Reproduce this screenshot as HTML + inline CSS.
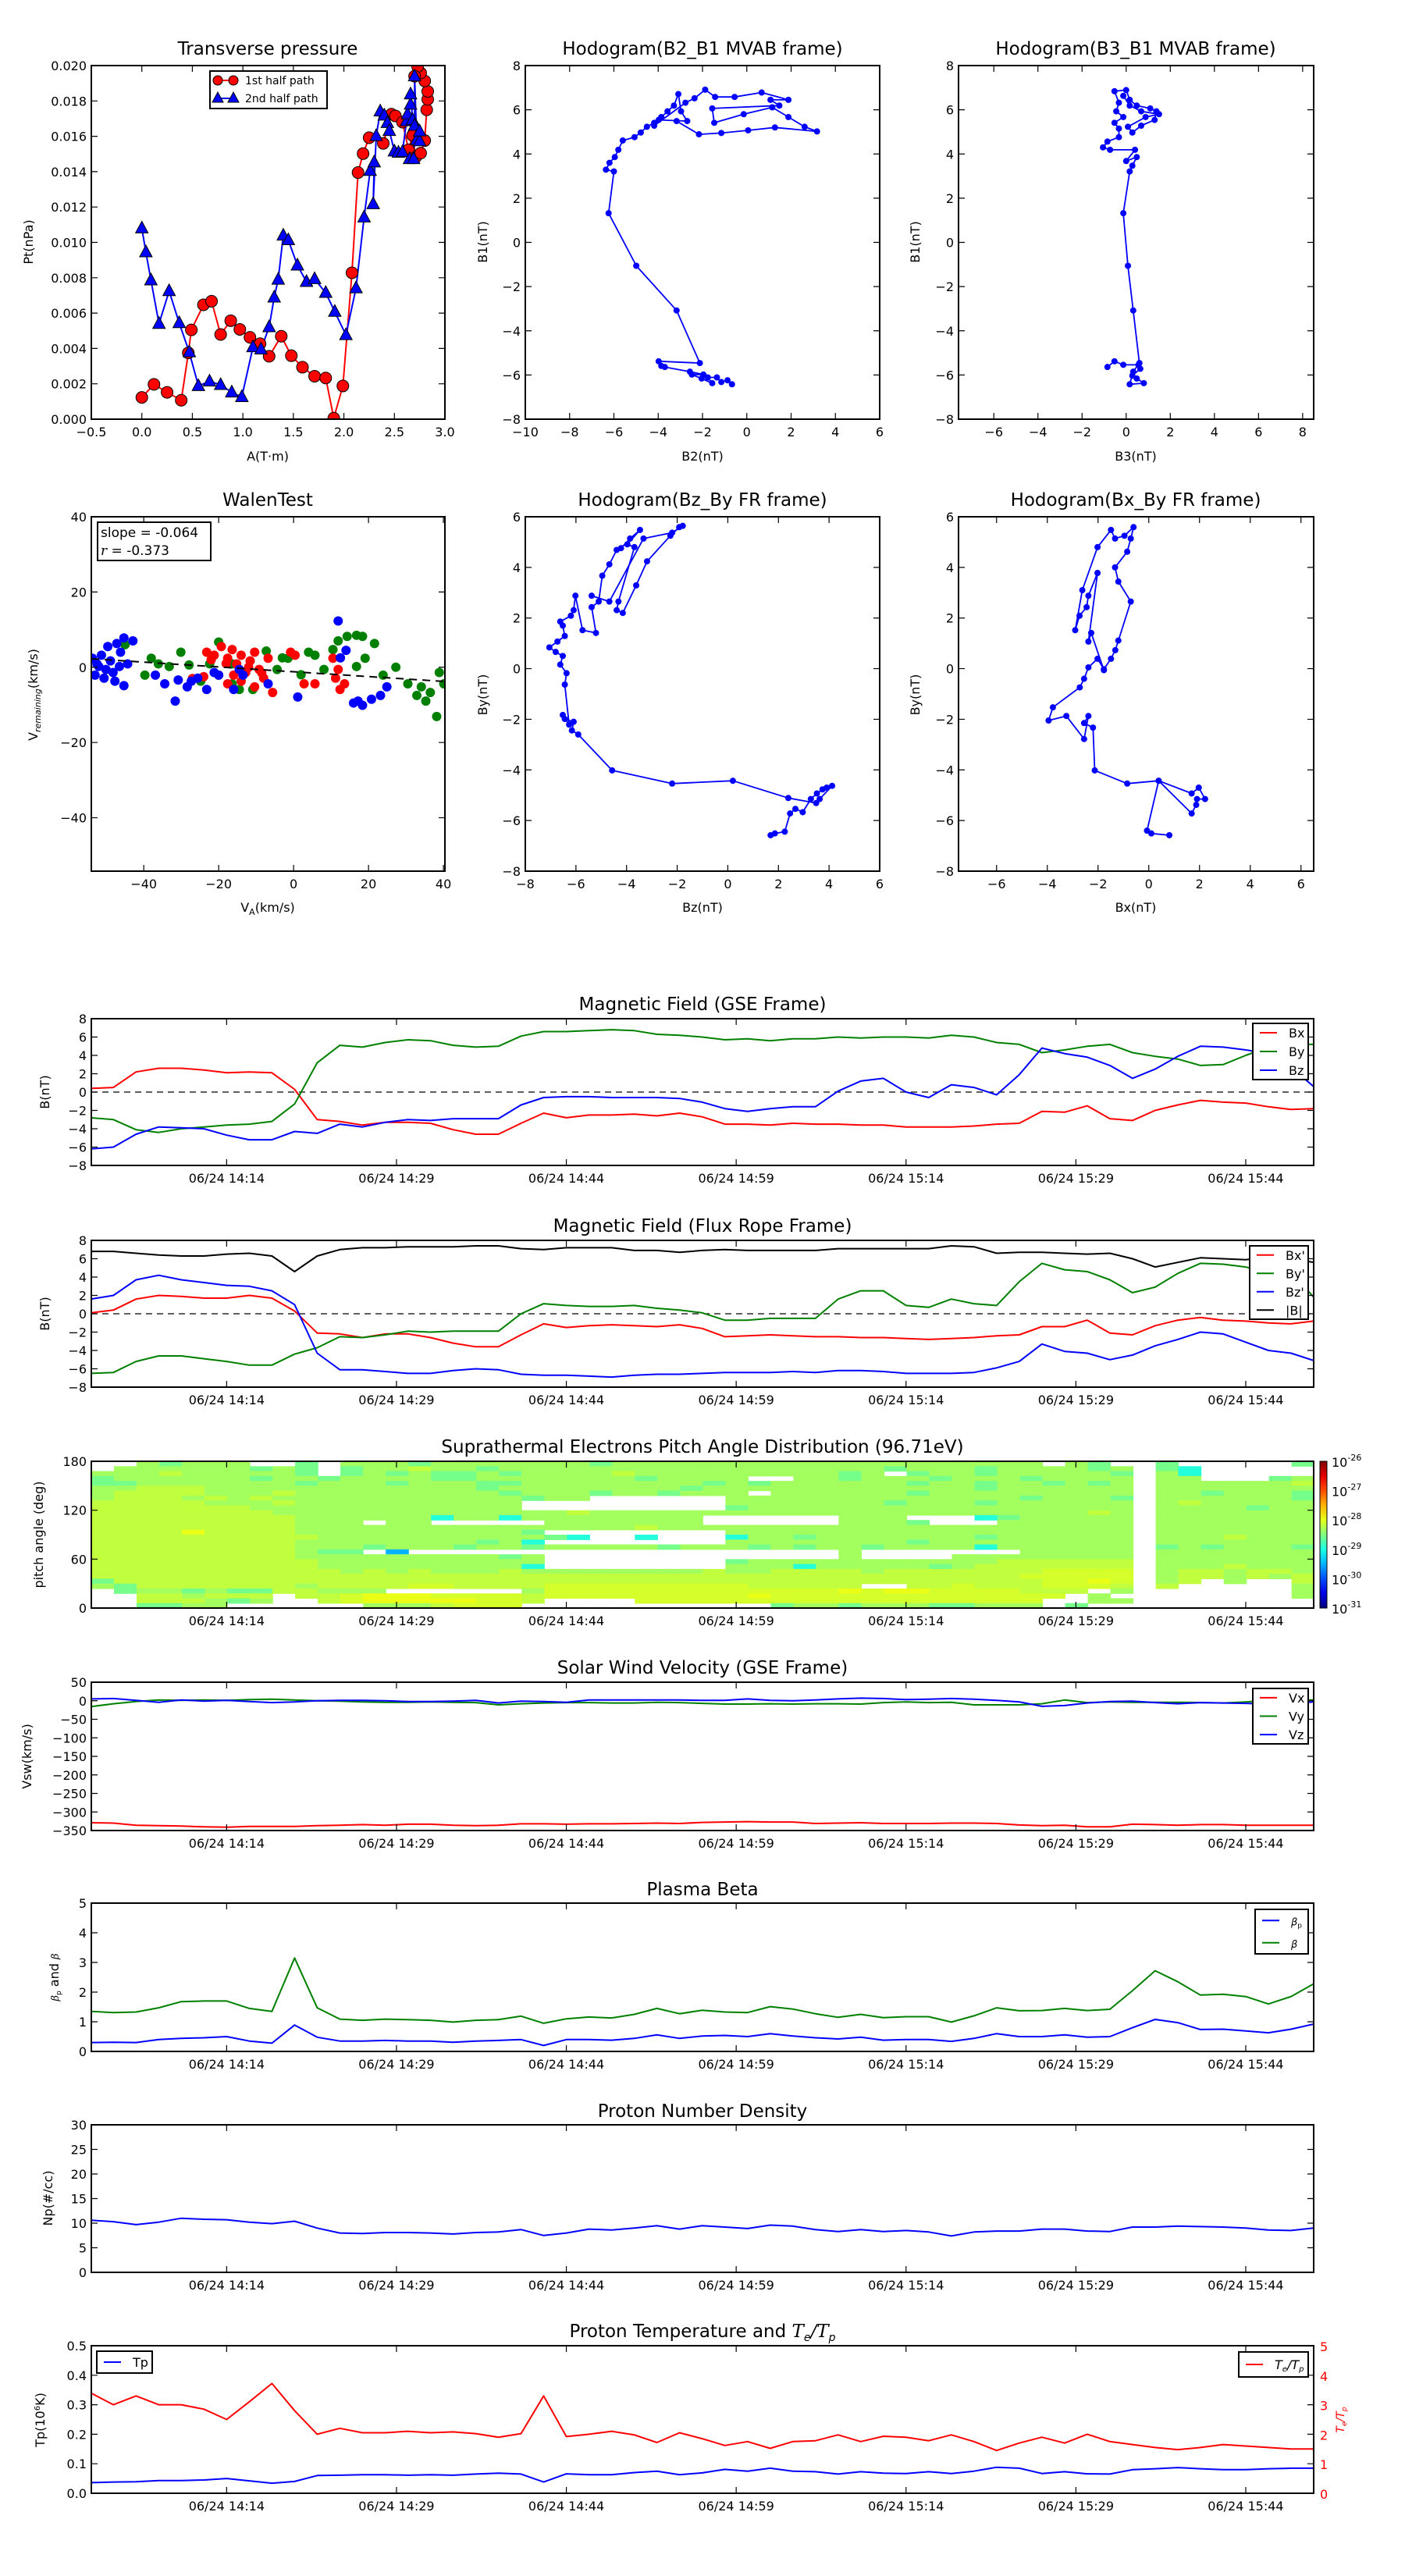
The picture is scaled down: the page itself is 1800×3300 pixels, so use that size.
<!DOCTYPE html>
<html><head><meta charset="utf-8"><title>Flux rope analysis</title>
<style>body{margin:0;background:#fff}svg{display:block;font-family:"DejaVu Sans","Liberation Sans",sans-serif}</style>
</head><body>
<svg id="fig" width="1800" height="3300" viewBox="0 0 1800 3300" xmlns="http://www.w3.org/2000/svg"><rect width="1800" height="3300" fill="#fff"/></svg>
<script>
// ---------- data ----------
const times=[2,4,6,8,10,12,14,16,18,20,22,24,26,28,30,32,34,36,38,40,42,44,46,48,50,52,54,56,58,60,62,64,66,68,70,72,74,76,78,80,82,84,86,88,90,92,94,96,98,100,102,104,106,108,110];
const timeTicks=[14,29,44,59,74,89,104];
const gseBx=[0.4,0.5,2.2,2.6,2.6,2.4,2.1,2.2,2.1,0.3,-3.0,-3.2,-3.6,-3.3,-3.3,-3.4,-4.1,-4.6,-4.6,-3.4,-2.3,-2.8,-2.5,-2.5,-2.4,-2.6,-2.3,-2.7,-3.5,-3.5,-3.6,-3.4,-3.5,-3.5,-3.6,-3.6,-3.8,-3.8,-3.8,-3.7,-3.5,-3.4,-2.1,-2.2,-1.5,-2.9,-3.1,-2.0,-1.4,-0.9,-1.1,-1.2,-1.6,-1.9,-1.8];
const gseBy=[-2.8,-3.0,-4.1,-4.4,-4.0,-3.8,-3.6,-3.5,-3.2,-1.3,3.2,5.1,4.9,5.4,5.7,5.6,5.1,4.9,5.0,6.1,6.6,6.6,6.7,6.8,6.7,6.3,6.2,6.0,5.7,5.8,5.6,5.8,5.8,6.0,5.9,6.0,6.0,5.9,6.2,6.0,5.4,5.2,4.3,4.6,5.0,5.2,4.3,3.9,3.6,2.9,3.0,4.0,4.9,5.2,5.2];
const gseBz=[-6.2,-6.0,-4.6,-3.8,-3.9,-4.0,-4.7,-5.2,-5.2,-4.3,-4.5,-3.5,-3.8,-3.3,-3.0,-3.1,-2.9,-2.9,-2.9,-1.4,-0.6,-0.5,-0.5,-0.6,-0.6,-0.6,-0.7,-1.1,-1.8,-2.1,-1.8,-1.6,-1.6,0.1,1.2,1.5,0,-0.6,0.8,0.5,-0.3,1.9,4.8,4.2,3.8,2.9,1.5,2.5,3.9,5.0,4.9,4.6,4.2,2.7,0.6];
const frBx=[0.1,0.4,1.6,2.0,1.9,1.7,1.7,2.0,1.7,0.3,-2.1,-2.2,-2.6,-2.2,-2.2,-2.6,-3.2,-3.6,-3.6,-2.3,-1.1,-1.5,-1.3,-1.2,-1.3,-1.4,-1.2,-1.6,-2.5,-2.4,-2.3,-2.4,-2.5,-2.5,-2.6,-2.6,-2.7,-2.8,-2.7,-2.6,-2.4,-2.3,-1.4,-1.4,-0.7,-2.1,-2.3,-1.3,-0.7,-0.4,-0.7,-0.8,-1.0,-1.1,-0.8];
const frBy=[-6.5,-6.4,-5.2,-4.6,-4.6,-4.9,-5.2,-5.6,-5.6,-4.4,-3.7,-2.5,-2.6,-2.3,-1.9,-2.0,-1.9,-1.9,-1.9,0,1.1,0.9,0.8,0.8,0.9,0.6,0.4,0.1,-0.7,-0.7,-0.5,-0.5,-0.5,1.6,2.5,2.5,0.9,0.7,1.6,1.1,0.9,3.5,5.5,4.8,4.6,3.7,2.3,2.9,4.4,5.5,5.4,5.1,4.4,4.6,1.8];
const frBz=[1.6,2.0,3.7,4.2,3.7,3.4,3.1,3.0,2.5,1.0,-4.3,-6.1,-6.1,-6.3,-6.5,-6.5,-6.2,-6.0,-6.1,-6.6,-6.7,-6.7,-6.8,-6.9,-6.7,-6.6,-6.6,-6.5,-6.4,-6.4,-6.4,-6.3,-6.4,-6.2,-6.2,-6.3,-6.5,-6.5,-6.5,-6.4,-5.9,-5.2,-3.3,-4.1,-4.3,-5.0,-4.5,-3.5,-2.8,-2.0,-2.2,-3.1,-4.0,-4.3,-5.1];
const frBt=[6.8,6.8,6.6,6.4,6.3,6.3,6.5,6.6,6.3,4.6,6.3,7.0,7.2,7.2,7.3,7.3,7.3,7.4,7.4,7.1,7.0,7.2,7.2,7.2,6.9,6.9,6.7,6.9,7.0,6.9,6.9,6.9,6.9,7.1,7.1,7.1,7.1,7.1,7.4,7.3,6.6,6.7,6.7,6.6,6.5,6.6,6.0,5.1,5.6,6.1,6.0,5.9,6.2,6.0,5.6];
const vx=[-329,-330,-336,-337,-338,-340,-341,-339,-339,-339,-337,-336,-334,-336,-333,-333,-336,-337,-336,-332,-332,-333,-332,-332,-331,-330,-331,-328,-327,-326,-327,-327,-331,-330,-329,-331,-331,-331,-330,-330,-331,-335,-337,-336,-340,-340,-333,-334,-336,-334,-334,-336,-336,-336,-336];
const vy=[-16,-8,-2,2,1,2,1,3,4,2,0,-1,-3,-4,-4,-3,-4,-5,-11,-8,-6,-5,-5,-6,-6,-4,-5,-7,-9,-9,-8,-9,-8,-8,-9,-5,-3,-5,-4,-11,-11,-11,-8,2,-5,-3,-4,-4,-4,-5,-6,-3,1,2,2];
const vz=[5,6,1,-4,2,-1,1,-2,-5,-3,0,1,1,0,-2,-2,-1,1,-6,-1,-2,-4,2,2,2,2,2,1,1,5,1,0,2,5,7,6,3,4,6,4,1,-3,-15,-13,-6,-2,-1,-5,-8,-5,-6,-7,-9,-8,-3];
const betaTot=[1.35,1.31,1.33,1.47,1.68,1.7,1.7,1.45,1.35,3.15,1.47,1.09,1.05,1.09,1.07,1.05,0.99,1.05,1.07,1.19,0.95,1.1,1.16,1.13,1.25,1.45,1.27,1.39,1.33,1.31,1.51,1.43,1.27,1.15,1.25,1.14,1.17,1.17,0.99,1.2,1.47,1.37,1.38,1.45,1.38,1.42,2.05,2.72,2.35,1.9,1.93,1.85,1.6,1.85,2.28];
const betaP=[0.3,0.31,0.3,0.4,0.44,0.46,0.5,0.35,0.28,0.89,0.48,0.35,0.35,0.37,0.35,0.35,0.31,0.35,0.37,0.4,0.2,0.4,0.4,0.38,0.44,0.56,0.44,0.52,0.54,0.5,0.6,0.52,0.46,0.42,0.48,0.38,0.4,0.4,0.34,0.44,0.6,0.5,0.5,0.56,0.48,0.5,0.8,1.08,0.97,0.74,0.75,0.69,0.63,0.75,0.92];
const np=[10.6,10.3,9.7,10.2,11.0,10.8,10.7,10.2,9.9,10.4,9.0,8.0,7.9,8.1,8.1,8.0,7.8,8.1,8.2,8.7,7.5,8.0,8.8,8.6,9.0,9.5,8.8,9.5,9.2,8.9,9.6,9.4,8.7,8.3,8.7,8.3,8.5,8.2,7.4,8.2,8.4,8.4,8.8,8.8,8.4,8.3,9.2,9.2,9.4,9.3,9.2,9.0,8.6,8.5,9.0];
const tp=[0.036,0.038,0.039,0.043,0.043,0.045,0.05,0.042,0.034,0.04,0.06,0.061,0.063,0.063,0.061,0.063,0.061,0.065,0.068,0.065,0.038,0.066,0.063,0.063,0.07,0.075,0.063,0.069,0.081,0.075,0.085,0.075,0.073,0.065,0.073,0.068,0.067,0.073,0.067,0.075,0.088,0.085,0.067,0.073,0.066,0.065,0.08,0.083,0.087,0.083,0.08,0.08,0.083,0.085,0.085];
const teTp=[3.4,3.0,3.3,3.0,3.0,2.85,2.5,3.1,3.72,2.8,2.0,2.2,2.05,2.05,2.1,2.05,2.08,2.02,1.9,2.02,3.3,1.92,2.0,2.1,1.98,1.72,2.05,1.85,1.62,1.75,1.52,1.75,1.78,1.98,1.75,1.93,1.9,1.78,1.98,1.75,1.45,1.7,1.9,1.7,2.0,1.75,1.65,1.55,1.48,1.55,1.65,1.6,1.55,1.5,1.5];
// pitch angle distribution: rows 180->0 deg (6 deg bins), columns = 2-min bins starting at times[i]
const padRows=[
"..lglll..g"+".lllglllll"+"llglllllll"+"llllllllll"+"ll.lg."+"."+"g.....g",
".llllllglg"+".gllmllgll"+"llllllllll"+"lllllglllg"+"llllgl"+"."+"gc.....",
"lllmlllllg"+".glglgglgl"+"lllmllllll"+"lllgl.gllg"+"lllllg"+"."+"lc.....",
"gllllllgll"+"gllllgglll"+"llllgllll."+".llglllgll"+"lgllll"+"."+"ll...gl",
"gglllllllg"+"lllglllggl"+"lllllllglg"+"llllllgllg"+"llglgl"+"."+"llllllm",
"llmmmlllll"+"lllllllgll"+"llllllglll"+"lllllllllg"+"llllll"+"."+"lllllll",
"lmmmmlllml"+"llllllllgl"+"llgllglll."+"llllllglll"+"llllll"+"."+"llglllg",
"lmmmlmlmll"+"lllllllllg"+"ll......ll"+"llllllllll"+"lglllg"+"."+"llllllg",
"mmmmmlllml"+"lllllllll."+"........ll"+"lllllglllg"+"llllll"+"."+"lmlllll",
"mmmmmmmlll"+"lllllllll."+"........gl"+"llllllllll"+"llllll"+"."+"llllgll",
"mmmmmmmmll"+"llllllllll"+"lmllllllll"+"llllllllll"+"llllml"+"."+"lllllll",
"mmmmmmmmml"+"lllllcllcl"+"lllllll..."+"...lll...c"+"glllll"+"."+"lllllll",
"mmmmmmmmml"+"ll.ll....."+"lllllll..."+"...lllg..."+"llllll"+"."+"lllllll",
"mmmmmmmmml"+"llllllllll"+"llllmlllll"+"llllllllll"+"llllll"+"."+"lllllll",
"mmmmYmmmml"+"lllllllllg"+"........ll"+"llllllllll"+"llllll"+"."+"lllllll",
"mmmmmmmmmm"+"llllllllll"+"gc..c...cl"+"lglllllllg"+"llllll"+"."+"lllmlll",
"mmmmmmmmml"+"lllllllglc"+"........ll"+"llllllglll"+"llllll"+"."+"lllllll",
"mmmmmmmmml"+"llglllgllg"+"lllllglllg"+"lgllgllllc"+"llllll"+"."+"glglllg",
"mmmmmmmmml"+"gg.b......"+".........."+"...l......"+".lllll"+"."+"lllllll",
"mmmmmmmmml"+"llllllllgl"+".........."+"...l....ll"+"llllll"+"."+"lllllll",
"mmmmmmmmmm"+"llllllllll"+"........gl"+"llllllllll"+"mmmmmm"+"."+"lllllll",
"mmmmmmmmmm"+"lllllllllc"+"........ll"+"lclllllglm"+"mmmmmm"+"."+"lllmlll",
"mmmmmmmmmm"+"mlmlmlllml"+"lllllllmll"+"mmmmlmmmmm"+"mmyyyy"+"."+"lmmlmml",
"mmmmmmmmmm"+"mmmmmmmmmm"+"mmmmmmmmmm"+"mmmmmmmmmm"+"myyyyy"+"."+"lmmlmlm",
"gmmmmmmmmm"+"mmmmmmmmmm"+"mmmmmmmmmm"+"mmmmmmmmmm"+"mmyyYy"+"."+"lm.l..m",
"lgmmmmmmml"+"mmmmyymmmm"+"yyyyyyyyym"+"mmmm..mmym"+"mmyyym"+"."+"m.....l",
".gllglggmm"+"lll......l"+"yyyyyyyyyy"+"yyyYyYYyyy"+"ymmm.l"+"."+"......l",
"..mmlmmm.m"+"myYYYyyyym"+"yyyyyyyyyY"+"yyyyyyyyyy"+"yyy.l."+"."+"......l",
"..mmmlgl.."+"myYYYYYyym"+"....yyyyyy"+"yyyyyyyyyy"+"yy..ll"+"."+".......",
"..ggll...."+"..lllmyyy."+".........."+"gllglllggl"+"ll.g.."+"."+"......."];
const padLevels={Y:-27.98,y:-28.08,m:-28.18,l:-28.33,g:-28.55,c:-28.95,b:-29.5};
// transverse pressure
const pA1=[0.0,0.12,0.25,0.39,0.46,0.49,0.61,0.69,0.78,0.88,0.97,1.07,1.17,1.26,1.38,1.48,1.59,1.71,1.82,1.90,1.99,2.08,2.14,2.19,2.25,2.39,2.47,2.51,2.58,2.64,2.68,2.71,2.76,2.80,2.82,2.83,2.83,2.80,2.76,2.73,2.70];
const pPt1=[0.00123,0.00197,0.00152,0.00107,0.00375,0.00505,0.00647,0.00667,0.00479,0.00557,0.00508,0.00463,0.00427,0.00356,0.00469,0.00359,0.00294,0.00243,0.00233,0.00006,0.00188,0.00828,0.01395,0.01502,0.01592,0.0156,0.01725,0.01715,0.0168,0.01524,0.01605,0.01482,0.01505,0.01576,0.0175,0.01809,0.01854,0.01913,0.01958,0.01994,0.0194];
const pA2=[0.0,0.04,0.09,0.17,0.27,0.37,0.47,0.56,0.67,0.78,0.89,0.99,1.10,1.18,1.26,1.31,1.35,1.40,1.45,1.54,1.63,1.71,1.82,1.91,2.02,2.12,2.20,2.26,2.30,2.29,2.32,2.36,2.40,2.43,2.45,2.50,2.54,2.58,2.62,2.63,2.66,2.66,2.68,2.70,2.70,2.72,2.75,2.75,2.65,2.69];
const pPt2=[0.0108,0.00945,0.00786,0.0054,0.00725,0.00544,0.00379,0.00188,0.00214,0.00194,0.00152,0.00126,0.00408,0.00395,0.00521,0.00689,0.0079,0.01039,0.01013,0.0087,0.00777,0.00793,0.00715,0.00608,0.00476,0.00741,0.01142,0.01405,0.01453,0.01217,0.01602,0.01741,0.01718,0.01676,0.01631,0.01515,0.01508,0.01511,0.01686,0.01725,0.0178,0.01838,0.01693,0.0166,0.0194,0.0158,0.01573,0.01628,0.01472,0.01472];
// hodograms
const mvB2=[-0.67,-0.87,-1.15,-1.35,-1.76,-1.56,-2.04,-2.48,-1.96,-2.57,-3.70,-3.86,-3.98,-2.12,-3.17,-4.99,-6.24,-6.0,-6.36,-6.2,-5.96,-5.8,-5.6,-5.07,-4.79,-4.51,-4.18,-3.86,-3.58,-3.29,-3.09,-2.97,-2.69,-3.98,-4.18,-2.77,-2.36,-1.88,-1.43,-0.55,0.67,1.88,1.07,1.47,-1.56,-1.47,-0.14,1.15,1.88,2.61,3.17,1.27,0.06,-1.15,-2.16,-3.17];
const mvB1a=[-6.42,-6.24,-6.32,-6.11,-6.11,-6.37,-6.16,-5.98,-5.98,-5.85,-5.64,-5.59,-5.38,-5.46,-3.08,-1.06,1.32,3.21,3.29,3.6,3.86,4.19,4.61,4.76,4.97,5.23,5.41,5.67,5.93,6.19,6.71,5.93,5.49,5.54,5.28,6.32,6.52,6.91,6.58,6.58,6.78,6.45,6.45,6.19,6.06,5.41,5.80,6.11,5.67,5.23,5.02,5.2,5.07,4.95,4.89,5.49];
const mvB3=[-0.85,-0.53,-0.13,0.56,0.64,0.28,0.48,0.8,0.16,0.32,0.6,0.32,0.08,-0.13,0.16,0.28,0.48,0,0.4,-0.73,-1.05,-0.85,-0.33,-0.33,-0.53,-0.13,-0.45,-0.33,-0.53,0,0.16,0.48,1.09,1.37,1.29,0.68,0.28,0.08,0.88,1.49,0.68,0.16,-0.13];
const mvB1b=[-5.64,-5.38,-5.54,-5.54,-5.72,-6.03,-6.16,-6.37,-6.42,-5.85,-5.46,-3.08,-1.06,1.32,3.21,3.47,3.86,3.68,4.19,4.19,4.3,4.56,4.76,5.15,5.41,5.67,5.93,6.32,6.84,6.89,6.45,6.19,6.06,5.93,5.54,5.28,4.97,5.23,5.67,5.8,5.93,6.19,6.63];
const frHz=[1.69,1.86,2.25,2.46,2.67,2.96,3.28,3.52,3.74,3.91,4.12,3.63,3.49,2.39,0.2,-2.2,-4.57,-5.91,-6.16,-6.09,-6.44,-6.52,-6.27,-6.44,-6.37,-6.62,-6.52,-6.8,-7.05,-6.73,-6.44,-6.52,-6.62,-6.2,-6.09,-6.02,-5.74,-5.21,-5.38,-5.1,-4.96,-4.68,-4.39,-4.22,-3.86,-3.47,-3.97,-3.69,-4.32,-4.39,-4.15,-3.62,-3.19,-2.27,-1.92,-1.78,-2.2,-3.33,-4.68,-5.38];
const frHy=[-6.58,-6.51,-6.44,-5.72,-5.54,-5.67,-5.15,-4.93,-4.77,-4.7,-4.63,-5.15,-5.31,-5.11,-4.43,-4.54,-4.02,-2.6,-2.44,-2.1,-1.99,-1.83,-2.21,-0.63,-0.18,0.16,0.5,0.66,0.84,1.07,1.29,1.7,1.86,2.09,2.31,2.88,1.52,1.41,2.43,2.65,3.67,4.12,4.69,4.76,5.14,5.48,4.91,4.8,2.65,2.31,2.2,3.29,4.24,5.25,5.59,5.64,5.37,5.14,2.65,2.88];
const frHx=[0.81,0.1,-0.07,0.39,1.69,1.97,2.22,1.9,1.87,1.69,0.39,-0.85,-2.13,-2.2,-2.55,-2.38,-2.55,-3.25,-3.95,-3.78,-2.72,-2.55,-2.38,-2.02,-1.77,-1.49,-1.32,-1.2,-0.71,-1.2,-1.33,-0.85,-0.71,-0.6,-0.96,-1.33,-1.49,-2.02,-2.62,-2.9,-2.73,-2.45,-2.38,-2.02,-2.38,-2.27,-1.77];
const frHy2=[-6.58,-6.51,-6.4,-4.43,-4.93,-4.7,-5.15,-5.15,-5.38,-5.72,-4.43,-4.54,-4.02,-2.33,-2.15,-1.87,-2.78,-1.87,-2.05,-1.53,-0.74,-0.4,0.05,0.39,-0.02,0.39,0.73,1.11,2.65,3.44,4.0,4.62,5.14,5.59,5.25,5.14,5.48,4.8,3.1,1.52,2.09,2.43,2.88,3.78,1.07,1.41,-0.06];
// Walen test
const walenFit=[-0.064,-1.2];
const wBlueX=[-53.7,-52.5,-51.3,-50.1,-48.9,-48.2,-47.2,-46.2,-45.3,-44.3,-42.9,-53,-50.6,-47.7,-45.3,-52,-49.6,-46.5,-34.4,-31.6,-28.4,-25.6,-23.2,-20,-16,-13.5,-6.8,1.1,11.9,16,18.4,20.8,23.2,24.9,17.2,-36.9,-30.8,-27.3,-21.2,-14.5,12.5,14];
const wBlueY=[2.4,0.9,3.2,-0.6,1.7,-1.4,6.3,4.0,7.8,0.9,7.0,-2.1,-2.9,-3.7,-4.9,0.2,5.5,0.2,-4.4,-9.0,-5.2,-2.9,-5.9,-2.1,-5.9,-2.1,-4.4,-7.9,12.3,-9.5,-10.1,-8.5,-7.5,-5.2,-9.0,-2.1,-3.4,-3.7,-1.4,-0.6,2.5,4.5];
const wRedX=[-23.2,-21.2,-19.3,-17.6,-16.4,-15.2,-14,-12.8,-11.6,-10.4,-9.2,-8,-6.8,-5.6,-20,-17.6,-16,-10.4,-0.8,0.4,2.8,5.7,10.5,11.2,12.4,13.6,11.9,-14,-18,-12,-8.5,-22,-27,-24];
const wRedY=[4,3.2,5.5,2.4,4.7,0.9,3.2,-1.4,1.7,4,-0.6,-2.9,2.4,-6.7,-2.1,-4.4,-2.1,-5.2,4,3.2,-4.4,-4.4,2.4,-2.9,-5.9,-4.4,-0.6,-3.7,1,0,-1.5,2,-3,-2.5];
const wGreenX=[-39.7,-38,-36.1,-33.2,-30.1,-27.9,-22.4,-20,-16.4,-14.5,-10.9,-7.3,-4.4,-1.5,4,5.7,8.1,10.5,11.9,14.3,16.8,18.4,21.6,16.8,19.1,23.9,27.3,30.5,32.9,35.3,36.5,38.2,38.9,40.1,34.1,-16.4,-24.8,-45,-3,2];
const wGreenY=[-2.1,2.4,0.9,0.2,4,0.6,0.9,6.7,0.9,-5.9,-5.9,4.3,-0.6,2.4,4,3.2,-0.6,4.7,7,8.2,8.5,8.2,6.3,0.2,2.4,-2.1,0,-4.4,-7.5,-9,-6.7,-13.1,-1.4,-4.4,-5.2,-4.4,-3.7,6,2.5,-2];

// ---------- helpers ----------
const NS='http://www.w3.org/2000/svg';
const svg=document.getElementById('fig');
function mk(tag,parent){const e=document.createElementNS(NS,tag);(parent||svg).appendChild(e);return e;}
function at(e,o){for(const k in o)e.setAttribute(k,o[k]);return e;}
let clipId=0;
function text(parent,x,y,str,size,anchor,name,fill){
  const t=mk('text',parent);
  at(t,{x:x,y:y,'font-size':size,'text-anchor':anchor||'middle',fill:fill||'#000'});
  t.textContent=str;
  
  
  return t;
}
function axes(name,x0,y0,x1,y1,xd,yd){
  const g=mk('g');
  
  
  const cid='c'+(clipId++);
  const cp=mk('clipPath',g);at(cp,{id:cid});
  at(mk('rect',cp),{x:x0,y:y0,width:x1-x0,height:y1-y0});
  const d=mk('g',g);at(d,{'clip-path':'url(#'+cid+')'});
  
  
  const ax={g,d,x0,y0,x1,y1,
    sx:v=>x0+(v-xd[0])/(xd[1]-xd[0])*(x1-x0),
    sy:v=>y1-(v-yd[0])/(yd[1]-yd[0])*(y1-y0)};
  return ax;
}
function frame(ax){
  const r=mk('rect',ax.g);
  at(r,{x:ax.x0,y:ax.y0,width:ax.x1-ax.x0,height:ax.y1-ax.y0,fill:'none',stroke:'#000','stroke-width':2});
  
  
}
function xTicks(ax,vals,labels,size){
  vals.forEach((v,i)=>{
    const x=ax.sx(v);
    const p=mk('path',ax.g);
    at(p,{d:`M${x},${ax.y1}v-8M${x},${ax.y0}v8`,stroke:'#000','stroke-width':1.2});
    
    
    text(ax.g,x,ax.y1+22,labels[i],size||16,'middle','x-tick-label');
  });
}
function yTicks(ax,vals,labels,size,right,color){
  vals.forEach((v,i)=>{
    const y=ax.sy(v);
    const p=mk('path',ax.g);
    at(p,{d:`M${ax.x0},${y}h8M${ax.x1},${y}h-8`,stroke:'#000','stroke-width':1.2});
    
    
    if(labels){
      if(right) text(ax.g,ax.x1+8,y+6,labels[i],size||16,'start','y-tick-label-right',color);
      else text(ax.g,ax.x0-6,y+6,labels[i],size||16,'end','y-tick-label');
    }
  });
}
function rng(a,b,s){const r=[];for(let v=a;v<=b+1e-9;v+=s)r.push(+v.toFixed(6));return r;}
function fmt(v,d){const s=Math.abs(v).toFixed(d);return (v<0?'\u2212':'')+s;}
function series(ax,xs,ys,color,name,w,sy){
  const f=sy||ax.sy;
  let d='';
  const n=Math.min(xs.length,ys.length);
  for(let i=0;i<n;i++)d+=(i?'L':'M')+ax.sx(xs[i]).toFixed(1)+','+f(ys[i]).toFixed(1);
  const p=mk('path',ax.d);
  at(p,{d:d,fill:'none',stroke:color,'stroke-width':w||2,'stroke-linejoin':'round'});
  
  
  return p;
}
function dots(ax,xs,ys,color,r,name){
  const n=Math.min(xs.length,ys.length);
  for(let i=0;i<n;i++){
    const c=mk('circle',ax.d);
    at(c,{cx:ax.sx(xs[i]),cy:ax.sy(ys[i]),r:r,fill:color});
    
    
  }
}
function title(x,y,str,name){return text(svg,x,y,str,23,'middle',name);}
function ylabel(x,y,str,name,size,color){
  const t=text(svg,x,y,str,size||16,'middle',name,color);
  t.setAttribute('transform',`rotate(-90 ${x} ${y})`);
  return t;
}
function legend(x,y,w,h,items,name){
  const g=mk('g');
  
  
  const r=mk('rect',g);
  at(r,{x:x,y:y,width:w,height:h,fill:'#fff',stroke:'#000','stroke-width':2});
  
  
  const step=h/items.length;
  items.forEach((it,i)=>{
    const cy=y+step*(i+0.5);
    const l=mk('line',g);
    at(l,{x1:x+9,x2:x+31,y1:cy,y2:cy,stroke:it[1],'stroke-width':2});
    
    
    const t=text(g,x+46,cy+6,'',16,'start','legend-entry');
    t.innerHTML=it[0];
  });
}
const tmin=2.05,tmax=110.0;
function timePanel(name,y0,y1,yd,ticks,lab,titleStr,titleY){
  const ax=axes(name,117,y0,1683,y1,[tmin,tmax],yd);
  xTicks(ax,timeTicks,timeTicks.map(m=>{const h=14+Math.floor(m/60),mm=m%60;return '06/24 '+h+':'+String(mm).padStart(2,'0');}),16);
  yTicks(ax,ticks,lab,16);
  if(titleStr)title(900,titleY,titleStr,name+'-title');
  return ax;
}
function zeroLine(ax){
  const l=mk('line',ax.d);
  at(l,{x1:ax.x0,x2:ax.x1,y1:ax.sy(0),y2:ax.sy(0),stroke:'#000','stroke-width':1.3,'stroke-dasharray':'8,6'});
  
  
}

// ---------- Transverse pressure ----------
{
  const ax=axes('transverse-pressure-chart',117,84,570,537,[-0.5,3.0],[0,0.02]);
  series(ax,pA1,pPt1,'#f00','first-half-path-line',2);
  series(ax,pA2,pPt2,'#00f','second-half-path-line',2);
  for(let i=0;i<pA1.length;i++){
    const c=mk('circle',ax.d);
    at(c,{cx:ax.sx(pA1[i]),cy:ax.sy(pPt1[i]),r:7.5,fill:'#f00',stroke:'#000','stroke-width':1});
    
    
  }
  for(let i=0;i<pA2.length;i++){
    const x=ax.sx(pA2[i]),y=ax.sy(pPt2[i]);
    const p=mk('polygon',ax.d);
    at(p,{points:`${x},${y-9} ${x-8},${y+6} ${x+8},${y+6}`,fill:'#00f',stroke:'#000','stroke-width':1});
    
    
  }
  frame(ax);
  const xt=rng(-0.5,3.0,0.5);xTicks(ax,xt,xt.map(v=>fmt(v,1)));
  const yt=rng(0,0.02,0.002);yTicks(ax,yt,yt.map(v=>v.toFixed(3)));
  title(343,70,'Transverse pressure','transverse-pressure-title');
  text(svg,343,590,'A(T\u00b7m)',16,'middle','x-axis-title');
  ylabel(42,310,'Pt(nPa)','y-axis-title');
  const g=mk('g');
  
  
  const r=mk('rect',g);at(r,{x:269,y:91,width:150,height:48,fill:'#fff',stroke:'#000','stroke-width':2});
  
  
  const l1=mk('path',g);at(l1,{d:'M279,103h20',stroke:'#f00','stroke-width':2});
  
  
  [279,299].forEach(x=>{const c=mk('circle',g);at(c,{cx:x,cy:103,r:6,fill:'#f00',stroke:'#000','stroke-width':1});
    
    });
  const l2=mk('path',g);at(l2,{d:'M279,126h20',stroke:'#00f','stroke-width':2});
  
  
  [279,299].forEach(x=>{const p=mk('polygon',g);at(p,{points:`${x},${118} ${x-7},${131} ${x+7},${131}`,fill:'#00f',stroke:'#000','stroke-width':1});
    
    });
  text(g,314,108,'1st half path',14,'start','legend-entry');
  text(g,314,131,'2nd half path',14,'start','legend-entry');
}
// ---------- Hodogram B2_B1 ----------
{
  const ax=axes('hodogram-b2-b1',673,84,1127,537,[-10,6],[-8,8]);
  series(ax,mvB2,mvB1a,'#00f','hodogram-path',1.8);
  dots(ax,mvB2,mvB1a,'#00f',4,'hodogram-point');
  frame(ax);
  const xt=rng(-10,6,2);xTicks(ax,xt,xt.map(v=>fmt(v,0)));
  const yt=rng(-8,8,2);yTicks(ax,yt,yt.map(v=>fmt(v,0)));
  title(900,70,'Hodogram(B2_B1 MVAB frame)','hodogram-b2-b1-title');
  text(svg,900,590,'B2(nT)',16,'middle','x-axis-title');
  ylabel(624,310,'B1(nT)','y-axis-title');
}
// ---------- Hodogram B3_B1 ----------
{
  const ax=axes('hodogram-b3-b1',1228,84,1683,537,[-7.6,8.5],[-8,8]);
  series(ax,mvB3,mvB1b,'#00f','hodogram-path',1.8);
  dots(ax,mvB3,mvB1b,'#00f',4,'hodogram-point');
  frame(ax);
  const xt=rng(-6,8,2);xTicks(ax,xt,xt.map(v=>fmt(v,0)));
  const yt=rng(-8,8,2);yTicks(ax,yt,yt.map(v=>fmt(v,0)));
  title(1455,70,'Hodogram(B3_B1 MVAB frame)','hodogram-b3-b1-title');
  text(svg,1455,590,'B3(nT)',16,'middle','x-axis-title');
  ylabel(1178,310,'B1(nT)','y-axis-title');
}
// ---------- Walen test ----------
{
  const ax=axes('walen-test-chart',117,662,570,1116,[-54,40.4],[-54.2,40]);
  dots(ax,wGreenX,wGreenY,'#008000',6,'walen-point-green');
  dots(ax,wRedX,wRedY,'#f00',6,'walen-point-red');
  dots(ax,wBlueX,wBlueY,'#00f',6,'walen-point-blue');
  const l=mk('line',ax.d);
  at(l,{x1:ax.sx(-54),y1:ax.sy(walenFit[0]*-54+walenFit[1]),x2:ax.sx(40.4),y2:ax.sy(walenFit[0]*40.4+walenFit[1]),stroke:'#000','stroke-width':2,'stroke-dasharray':'10,7'});
  
  
  frame(ax);
  const xt=rng(-40,40,20);xTicks(ax,xt,xt.map(v=>fmt(v,0)));
  const yt=rng(-40,40,20);yTicks(ax,yt,yt.map(v=>fmt(v,0)));
  title(343,648,'WalenTest','walen-test-title');
  const xl=text(svg,343,1168,'',16,'middle','x-axis-title');xl.innerHTML='V<tspan font-size="11" dy="4">A</tspan><tspan dy="-4">(km/s)</tspan>';
  const yl=ylabel(48,890,'','y-axis-title');yl.innerHTML='V<tspan font-size="11" font-style="italic" dy="4">remaining</tspan><tspan dy="-4">(km/s)</tspan>';
  const b=mk('rect');at(b,{x:125,y:669,width:145,height:49,fill:'#fff',stroke:'#000','stroke-width':2});
  
  
  text(svg,129,688,'slope = -0.064',17,'start','slope-text');
  const rt=text(svg,129,711,'',17,'start','r-text');rt.innerHTML='<tspan font-style="italic" font-family="DejaVu Serif, serif">r</tspan> = -0.373';
}
// ---------- Hodogram Bz_By ----------
{
  const ax=axes('hodogram-bz-by',673,662,1127,1116,[-8,6],[-8,6]);
  series(ax,frHz,frHy,'#00f','hodogram-path',1.8);
  dots(ax,frHz,frHy,'#00f',4,'hodogram-point');
  frame(ax);
  const xt=rng(-8,6,2);xTicks(ax,xt,xt.map(v=>fmt(v,0)));
  const yt=rng(-8,6,2);yTicks(ax,yt,yt.map(v=>fmt(v,0)));
  title(900,648,'Hodogram(Bz_By FR frame)','hodogram-bz-by-title');
  text(svg,900,1168,'Bz(nT)',16,'middle','x-axis-title');
  ylabel(624,890,'By(nT)','y-axis-title');
}
// ---------- Hodogram Bx_By ----------
{
  const ax=axes('hodogram-bx-by',1228,662,1683,1116,[-7.5,6.5],[-8,6]);
  series(ax,frHx,frHy2,'#00f','hodogram-path',1.8);
  dots(ax,frHx,frHy2,'#00f',4,'hodogram-point');
  frame(ax);
  const xt=rng(-6,6,2);xTicks(ax,xt,xt.map(v=>fmt(v,0)));
  const yt=rng(-8,6,2);yTicks(ax,yt,yt.map(v=>fmt(v,0)));
  title(1455,648,'Hodogram(Bx_By FR frame)','hodogram-bx-by-title');
  text(svg,1455,1168,'Bx(nT)',16,'middle','x-axis-title');
  ylabel(1178,890,'By(nT)','y-axis-title');
}
// ---------- Magnetic field GSE ----------
{
  const yt=rng(-8,8,2);
  const ax=timePanel('magnetic-field-gse',1305,1493,[-8,8],yt,yt.map(v=>fmt(v,0)),'Magnetic Field (GSE Frame)',1294);
  zeroLine(ax);
  series(ax,times,gseBx,'#f00','bx-line');
  series(ax,times,gseBy,'#008000','by-line');
  series(ax,times,gseBz,'#00f','bz-line');
  frame(ax);
  ylabel(63,1399,'B(nT)','y-axis-title');
  legend(1605,1311,71,72,[['Bx','#f00'],['By','#008000'],['Bz','#00f']],'gse-legend');
}
// ---------- Magnetic field FR ----------
{
  const yt=rng(-8,8,2);
  const ax=timePanel('magnetic-field-flux-rope',1589,1777,[-8,8],yt,yt.map(v=>fmt(v,0)),'Magnetic Field (Flux Rope Frame)',1578);
  zeroLine(ax);
  series(ax,times,frBt,'#000','btotal-line');
  series(ax,times,frBx,'#f00','bx-prime-line');
  series(ax,times,frBy,'#008000','by-prime-line');
  series(ax,times,frBz,'#00f','bz-prime-line');
  frame(ax);
  ylabel(63,1683,'B(nT)','y-axis-title');
  legend(1601,1596,75,94,[["Bx'",'#f00'],["By'",'#008000'],["Bz'",'#00f'],['|B|','#000']],'fr-legend');
}
// ---------- PAD ----------
function jet(v){
  const c=x=>Math.round(255*Math.max(0,Math.min(1,1.5-Math.abs(x))));
  return `rgb(${c(4*v-3)},${c(4*v-2)},${c(4*v-1)})`;
}
{
  const ax=timePanel('pitch-angle-distribution',1872,2060,[0,180],[0,60,120,180],['0','60','120','180'],'Suprathermal Electrons Pitch Angle Distribution (96.71eV)',1861);
  padRows.forEach((row,r)=>{
    for(let c=0;c<row.length;c++){
      const ch=row[c];
      if(!(ch in padLevels))continue;
      const t=times[c]+0.05;
      const a1=180-6*r,a0=a1-6;
      const x=ax.sx(t),y=ax.sy(a1);
      const rc=mk('rect',ax.d);
      at(rc,{x:x.toFixed(1),y:y.toFixed(1),width:(ax.sx(t+2)-x+0.6).toFixed(1),height:(ax.sy(a0)-y+0.6).toFixed(1),fill:jet((padLevels[ch]+31)/5)});
      
      
    }
  });
  frame(ax);
  ylabel(55,1966,'pitch angle (deg)','y-axis-title');
  const defs=mk('defs');
  const lg=mk('linearGradient',defs);at(lg,{id:'jetg',x1:0,y1:1,x2:0,y2:0});
  for(let i=0;i<=10;i++){const s=mk('stop',lg);at(s,{offset:i/10,'stop-color':jet(i/10)});}
  const cb=mk('rect');at(cb,{x:1691,y:1872,width:9,height:188,fill:'url(#jetg)',stroke:'#000','stroke-width':1});
  
  
  [-26,-27,-28,-29,-30,-31].forEach((e,i)=>{
    const y=1872+i*188/5;
    const t=text(svg,1706,y+7,'',16,'start','colorbar-label');
    t.innerHTML='10<tspan font-size="11" dy="-8">'+e+'</tspan>';
  });
}
// ---------- Solar wind velocity ----------
{
  const yt=rng(-350,50,50);
  const ax=timePanel('solar-wind-velocity',2155,2345,[-350,50],yt,yt.map(v=>fmt(v,0)),'Solar Wind Velocity (GSE Frame)',2144);
  series(ax,times,vx,'#f00','vx-line');
  series(ax,times,vy,'#008000','vy-line');
  series(ax,times,vz,'#00f','vz-line');
  frame(ax);
  ylabel(40,2250,'Vsw(km/s)','y-axis-title');
  legend(1605,2163,71,71,[['Vx','#f00'],['Vy','#008000'],['Vz','#00f']],'velocity-legend');
}
// ---------- Plasma beta ----------
{
  const yt=rng(0,5,1);
  const ax=timePanel('plasma-beta',2438,2628,[0,5],yt,yt.map(v=>String(v)),'Plasma Beta',2428);
  series(ax,times,betaTot,'#008000','beta-line');
  series(ax,times,betaP,'#00f','beta-p-line');
  frame(ax);
  const yl=ylabel(75,2533,'','y-axis-title',16);yl.innerHTML='<tspan font-style="italic" font-family="DejaVu Serif, serif" font-size="13">\u03b2</tspan><tspan font-size="9" dy="3">p</tspan><tspan dy="-3"> and </tspan><tspan font-style="italic" font-family="DejaVu Serif, serif" font-size="13">\u03b2</tspan>';
  legend(1608,2446,68,57,[['<tspan font-style="italic" font-size="13">\u03b2</tspan><tspan font-size="9" dy="3">p</tspan>','#00f'],['<tspan font-style="italic" font-size="13">\u03b2</tspan>','#008000']],'beta-legend');
}
// ---------- Proton density ----------
{
  const yt=rng(0,30,5);
  const ax=timePanel('proton-density',2722,2911,[0,30],yt,yt.map(v=>String(v)),'Proton Number Density',2712);
  series(ax,times,np,'#00f','np-line');
  frame(ax);
  ylabel(67,2816,'Np(#/cc)','y-axis-title');
}
// ---------- Proton temperature ----------
{
  const yt=rng(0,0.5,0.1);
  const ax=timePanel('proton-temperature',3005,3194,[0,0.5],yt,yt.map(v=>v.toFixed(1)),null,0);
  const sy2=v=>ax.y1-v/5*(ax.y1-ax.y0);
  series(ax,times,teTp,'#f00','te-tp-line',2,sy2);
  series(ax,times,tp,'#00f','tp-line');
  frame(ax);
  [0,1,2,3,4,5].forEach(v=>text(svg,1691,sy2(v)+7,String(v),16,'start','right-axis-tick-label','#f00'));
  const tt=text(svg,900,2994,'',23,'middle','proton-temperature-title');
  tt.innerHTML='Proton Temperature and <tspan font-style="italic" font-family="DejaVu Serif, serif">T</tspan><tspan font-size="14" dy="5" font-style="italic">e</tspan><tspan dy="-5" font-style="italic" font-family="DejaVu Serif, serif">/T</tspan><tspan font-size="14" dy="5" font-style="italic">p</tspan>';
  const yl=ylabel(57,3100,'','y-axis-title');yl.innerHTML='Tp(10<tspan font-size="10" dy="-6">6</tspan><tspan dy="6">K)</tspan>';
  const yr=ylabel(1722,3100,'','right-axis-title',14,'#f00');yr.innerHTML='<tspan font-style="italic">T<tspan font-size="9" dy="3">e</tspan><tspan dy="-3">/T</tspan><tspan font-size="9" dy="3">p</tspan></tspan>';
  legend(124,3012,71,28,[['Tp','#00f']],'tp-legend');
  legend(1587,3013,89,32,[['<tspan font-style="italic">T<tspan font-size="10" dy="3">e</tspan><tspan dy="-3">/T</tspan><tspan font-size="10" dy="3">p</tspan></tspan>','#f00']],'te-tp-legend');
}
</script>
</body></html>
